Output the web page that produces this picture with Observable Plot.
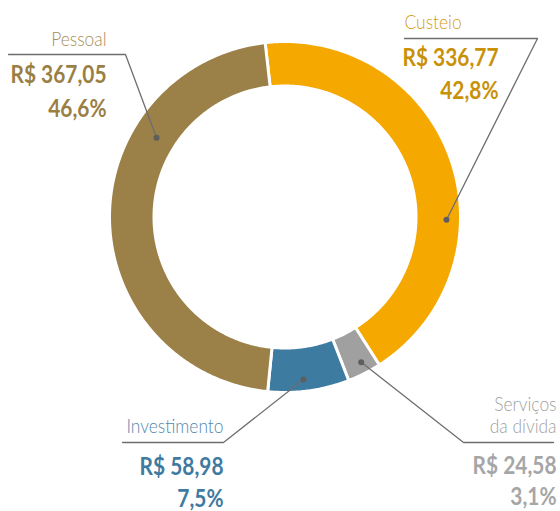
<!DOCTYPE html>
<html><head><meta charset="utf-8">
<script src="https://cdn.jsdelivr.net/npm/d3@7"></script>
<script src="https://cdn.jsdelivr.net/npm/@observablehq/plot@0.6"></script>
<style>body{margin:0;background:#fff}</style>
</head><body><div id="chart"></div>
<script>
// ---- data ----
const categories = ["Custeio", "Serviços da dívida", "Investimento", "Pessoal"];
const values = [336.77, 24.58, 58.98, 367.05];
const sliceColors = ["#F5A800", "#A0A0A0", "#3E7BA1", "#9B8048"];

// ---- layout (positions / styles) ----
const W = 560, H = 511;
const cx = 284.5, cy = 216.5, rOuter = 175.5, rInner = 131;
const startAngle = -6.5; // degrees clockwise from 12 o'clock
const FONT = "Lato, 'Open Sans', sans-serif";
const NAME_SIZE = 20, VAL_SIZE = 24;
const NAME_SX = 0.87, VAL_SX = 0.87; // horizontal condensing (Calibri-like)
const layout = {
  "Pessoal": {label: "Pessoal", nameX: 106, nameAnchor: "end", nameY: 45, valX: 106, valY: 82, pctY: 116,
    line: [[8, 54], [125, 54]], dotAngle: 301.7, dotR: 151, nameColor: "#A38D5A", valColor: "#9A7F45"},
  "Custeio": {label: "Custeio", nameX: 404, nameAnchor: "start", nameY: 28, valX: 498, valY: 65, pctY: 98,
    line: [[404, 38], [537, 38]], dotAngle: 91, dotR: 161.5, nameColor: "#D49D15", valColor: "#C99107"},
  "Investimento": {label: "Investimento", nameX: 223, nameAnchor: "end", nameY: 432, valX: 223, valY: 474, pctY: 506,
    line: [[122, 442], [223, 442]], dotAngle: 173.5, dotR: 163.5, nameColor: "#5288AD", valColor: "#3F7AA0"},
  "Serviços da dívida": {label: "Serviços\nda dívida", nameX: 556, nameAnchor: "end", nameY: 432, valX: 556, valY: 473, pctY: 504,
    line: [[553, 442], [463, 442]], dotAngle: 152.3, dotR: 164, nameColor: "#A0A0A0", valColor: "#A6A6A6"}
};

const total = d3.sum(values);
const rad = a => a * Math.PI / 180;
const px = (a, r) => cx + r * Math.sin(rad(a));
const py = (a, r) => cy - r * Math.cos(rad(a));

// slice polygons
const slicePts = [];
let a = startAngle;
categories.forEach((c, i) => {
  const a0 = a, a1 = a + values[i] / total * 360;
  const n = Math.max(4, Math.ceil((a1 - a0) * 2));
  const pts = [];
  for (let k = 0; k <= n; k++) { const t = a0 + (a1 - a0) * k / n; pts.push([px(t, rOuter), py(t, rOuter)]); }
  for (let k = n; k >= 0; k--) { const t = a0 + (a1 - a0) * k / n; pts.push([px(t, rInner), py(t, rInner)]); }
  pts.push(pts[0]);
  pts.forEach(p => slicePts.push({cat: c, x: p[0], y: p[1]}));
  a = a1;
});

const fmtVal = v => "R$ " + v.toFixed(2).replace(".", ",");
const fmtPct = v => (v / total * 100).toFixed(1).replace(".", ",") + "%";

const leaderPts = [];
const dots = [];
categories.forEach(c => {
  const L = layout[c];
  const d = {cat: c, x: px(L.dotAngle, L.dotR), y: py(L.dotAngle, L.dotR)};
  L.line.forEach(p => leaderPts.push({cat: c, x: p[0], y: p[1]}));
  leaderPts.push(d);
  dots.push(d);
});

const marks = [
  Plot.line(slicePts, {x: "x", y: "y", z: "cat", fill: "cat", stroke: "white", strokeWidth: 3, curve: "linear"}),
  Plot.line(leaderPts, {x: "x", y: "y", z: "cat", stroke: "#6e6e6e", strokeWidth: 1.3}),
  Plot.dot(dots, {x: "x", y: "y", r: 3, fill: "#5e5e5e", stroke: null})
];
categories.forEach((c, i) => {
  const L = layout[c];
  marks.push(Plot.text([c], {x: () => L.nameX, y: () => L.nameY, text: () => L.label, textAnchor: L.nameAnchor,
    lineAnchor: "bottom", lineHeight: 1.1, fontSize: NAME_SIZE, fontWeight: 300, fontFamily: FONT, fill: L.nameColor}));
  marks.push(Plot.text([values[i]], {x: () => L.valX, y: () => L.valY, text: d => fmtVal(d), textAnchor: "end",
    lineAnchor: "bottom", fontSize: VAL_SIZE, fontWeight: "bold", fontFamily: FONT, fill: L.valColor}));
  marks.push(Plot.text([values[i]], {x: () => L.valX, y: () => L.pctY, text: d => fmtPct(d), textAnchor: "end",
    lineAnchor: "bottom", fontSize: VAL_SIZE, fontWeight: "bold", fontFamily: FONT, fill: L.valColor}));
});

const chart = Plot.plot({
  width: W, height: H, margin: 0,
  x: {domain: [0, W], range: [0, W], axis: null},
  y: {domain: [0, H], range: [0, H], axis: null},
  color: {domain: categories, range: sliceColors},
  marks
});
// condense glyphs horizontally around each text's anchor
chart.querySelectorAll("text").forEach(t => {
  const g = t.closest("g[font-size]");
  const fs = g ? +g.getAttribute("font-size") : VAL_SIZE;
  const sx = fs === NAME_SIZE ? NAME_SX : VAL_SX;
  const tr = t.getAttribute("transform");
  if (tr && /translate/.test(tr)) {
    t.setAttribute("transform", tr + ` scale(${sx},1)`);
  } else {
    const x = +(t.getAttribute("x") || 0);
    t.setAttribute("transform", `translate(${x},0) scale(${sx},1) translate(${-x},0)`);
  }
});
document.getElementById("chart").appendChild(chart);
</script>
</body></html>
